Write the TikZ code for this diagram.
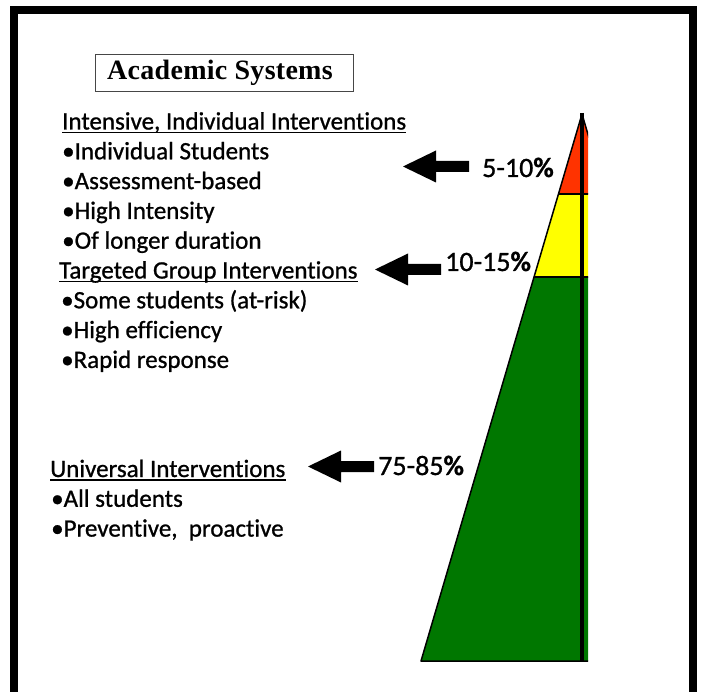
\documentclass[tikz,border=0pt]{standalone}
\usepackage{fontspec}
\setmainfont{Carlito}[Ligatures=NoCommon]
\newfontfamily\bodyfont{Carlito}[FakeBold=0.9,Ligatures=NoCommon]
\newfontfamily\titlefont{Liberation Serif}[LetterSpace=1]
\definecolor{pyrred}{RGB}{255,51,0}
\definecolor{pyryellow}{RGB}{255,255,0}
\definecolor{pyrgreen}{RGB}{0,119,0}
\definecolor{boxline}{RGB}{70,70,70}
\begin{document}
\begin{tikzpicture}[x=1pt,y=-1pt,
  txt/.style={anchor=base west,inner sep=0pt,font=\bodyfont\fontsize{25}{30}\selectfont},
  pct/.style={anchor=base west,inner sep=0pt,font=\bodyfont\fontsize{28}{32}\selectfont},
  uline/.style={line width=1.4pt},
  leftarrow/.pic={\fill[black] (0,0) -- (33,-16) -- (33,-5.5) -- (66,-5.5) -- (66,5.5) -- (33,5.5) -- (33,16) -- cycle;}]
\useasboundingbox (0,0) rectangle (704,692);
% frame
\draw[line width=8pt] (14,692) -- (14,10) -- (693,10) -- (693,692);
% title
\node[draw=boxline,line width=1.2pt,minimum width=258pt,minimum height=37pt,inner sep=0pt,
  font=\titlefont\bfseries\fontsize{28}{30}\selectfont] (title) at (224.5,73) {Academic Systems\hspace*{9pt}};
% pyramid
\begin{scope}
\clip (0,0) rectangle (588,692);
\fill[pyrred] (582,114) -- (558.46,194) -- (605.54,194) -- cycle;
\fill[pyryellow] (558.46,194) -- (534.03,277) -- (629.97,277) -- (605.54,194) -- cycle;
\fill[pyrgreen] (534.03,277) -- (421,661) -- (743,661) -- (629.97,277) -- cycle;
\draw[line width=1.5pt,line join=round] (582,114) -- (421,661) -- (743,661) -- cycle;
\draw[line width=1.5pt] (558.46,194) -- (605.54,194);
\draw[line width=1.5pt] (534.03,277) -- (629.97,277);
\draw[line width=3.5pt] (582,113) -- (582,661);
\end{scope}
% top tier text
\node[txt] (h1) at (62,129.5) {Intensive, Individual Interventions};
\node[txt] (h1a) at (62,159.3) {•Individual Students};
\node[txt] (h1b) at (62,189.1) {•Assessment-based};
\node[txt] (h1c) at (62,218.9) {•High Intensity};
\node[txt] (h1d) at (62,248.7) {•Of longer duration};
% middle tier text
\node[txt] (h2) at (59,278.5) {Targeted Group Interventions};
\node[txt] (h2a) at (61,308.3) {•Some students (at-risk)};
\node[txt] (h2b) at (61,338.1) {•High efficiency};
\node[txt] (h2c) at (61,367.9) {•Rapid response};
% bottom tier text
\node[txt] (h3) at (50,477) {Universal Interventions};
\node[txt] (h3a) at (51,506.8) {•All students};
\node[txt] (h3b) at (51,536.6) {•Preventive, \ proactive};
% underlines
\foreach \n in {h1,h2,h3}
  \draw[uline] ([yshift=-2.8pt]\n.base west) -- ([yshift=-2.8pt]\n.base east);
% percentages
\node[pct] (p1) at (482,177) {5-10{\fontseries{b}\selectfont\%}};
\node[pct] (p2) at (445,271) {10-15{\fontseries{b}\selectfont\%}};
\node[pct] (p3) at (378,475) {75-85{\fontseries{b}\selectfont\%}};
% arrows
\coordinate (t1) at (403,166.5);
\coordinate (t2) at (375,269.5);
\coordinate (t3) at (308,466.5);
\pic at (t1) {leftarrow};
\pic at (t2) {leftarrow};
\pic at (t3) {leftarrow};
\end{tikzpicture}
\end{document}
